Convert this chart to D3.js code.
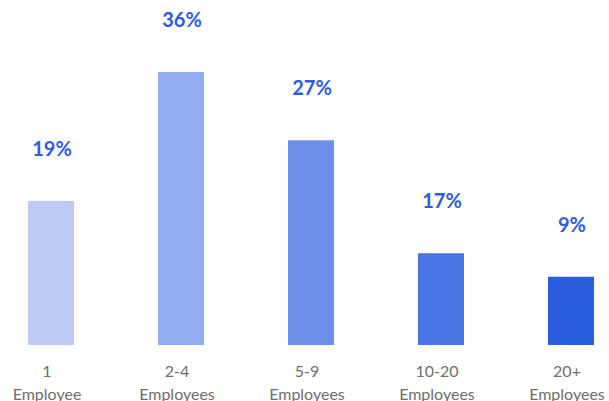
<!DOCTYPE html>
<meta charset="utf-8">
<style>
body { margin: 0; background: #fff; }
.pct { font-family: Lato, sans-serif; font-weight: 700; font-size: 20px; fill: #2d5ddf; }
.cat { font-family: Lato, sans-serif; font-size: 16px; fill: #6e6e6e; }
</style>
<body>
<div id="chart"></div>
<script src="https://cdn.jsdelivr.net/npm/d3@7"></script>
<script>

// data
var sizes = ['1', '2-4', '5-9', '10-20', '20+'];
var sizeUnits = ['Employee', 'Employees', 'Employees', 'Employees', 'Employees'];
var shares = [19, 36, 27, 17, 9];          // printed labels
var barValues = [19, 36, 27, 12.1, 9];     // bar heights as drawn
var colors = ['#bccbf5', '#93aef0', '#6c8fea', '#4a75e4', '#2a5ddf'];

var width = 609, height = 401;
var baseline = 345;

var svg = d3.select('#chart').append('svg')
  .attr('width', width)
  .attr('height', height);

var x = d3.scaleBand()
  .domain(sizes)
  .range([2, 620])
  .paddingInner(0.646)
  .paddingOuter(0.2);

var y = d3.scaleLinear()
  .domain([0, 36])
  .range([baseline, 72]);

// bars
svg.selectAll('.bar')
  .data(sizes)
  .enter().append('rect')
  .attr('class', 'bar')
  .attr('x', function(d) { return x(d); })
  .attr('width', x.bandwidth())
  .attr('y', function(d, i) { return y(barValues[i]); })
  .attr('height', function(d, i) { return baseline - y(barValues[i]); })
  .attr('fill', function(d, i) { return colors[i]; });

// percentage labels
svg.selectAll('.pct')
  .data(sizes)
  .enter().append('text')
  .attr('class', 'pct')
  .attr('text-anchor', 'middle')
  .attr('x', function(d) { return x(d) + x.bandwidth() / 2 + 1; })
  .attr('y', function(d, i) { return y(barValues[i]) - 45; })
  .text(function(d, i) { return shares[i] + '%'; });

// category labels, two lines
var cat = svg.selectAll('.cat')
  .data(sizes)
  .enter().append('text')
  .attr('class', 'cat')
  .attr('text-anchor', 'middle')
  .attr('transform', function(d) { return 'translate(' + (x(d) + x.bandwidth() / 2 - 4) + ',' + (baseline + 32) + ')'; });

cat.append('tspan')
  .attr('x', 0)
  .attr('y', 0)
  .text(function(d) { return d; });

cat.append('tspan')
  .attr('x', 0)
  .attr('y', 23)
  .text(function(d, i) { return sizeUnits[i]; });

</script>
</body>
</html>
